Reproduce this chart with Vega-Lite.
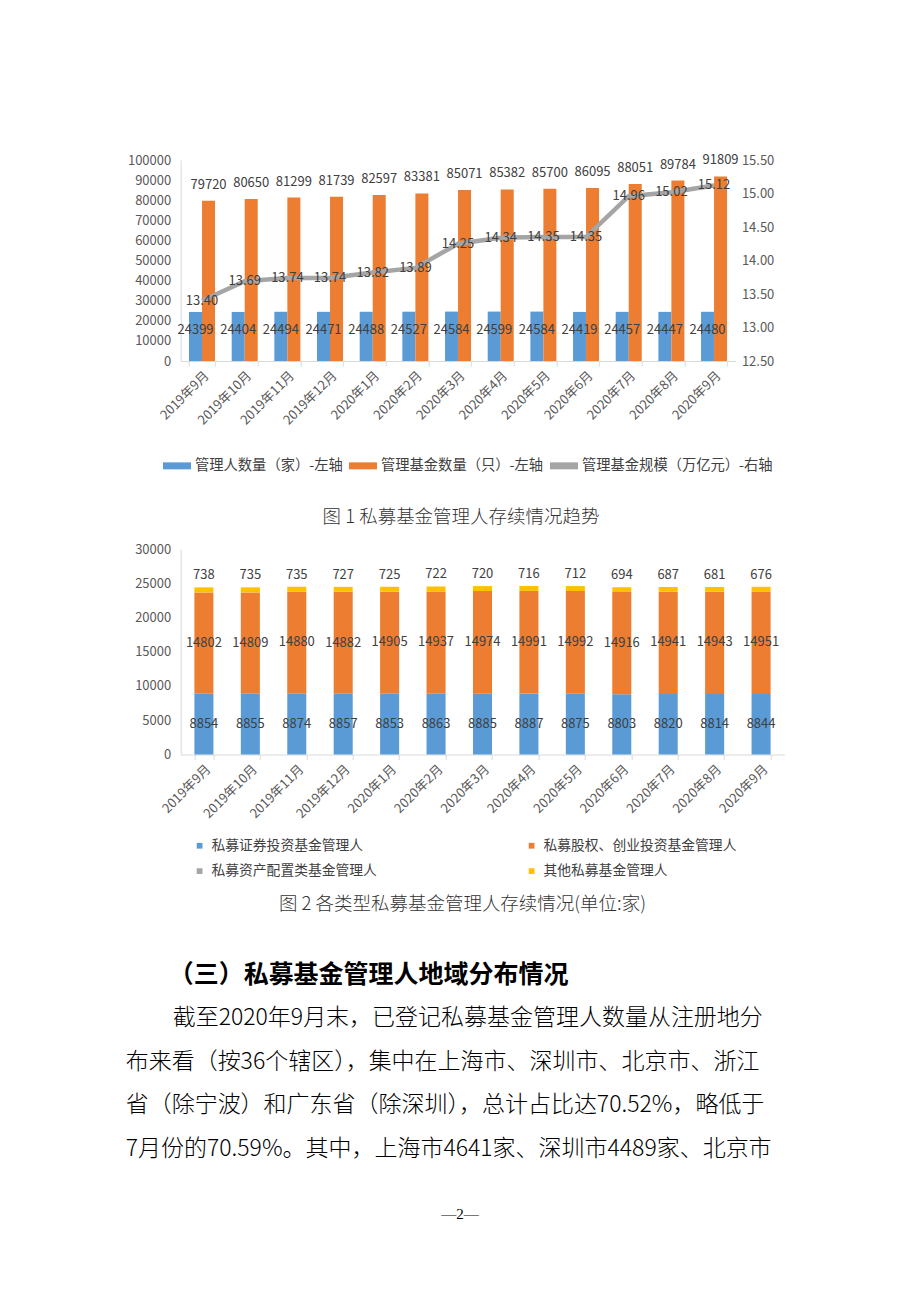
{
  "$schema": "https://vega.github.io/schema/vega-lite/v6.json",
  "background": "white",
  "padding": {"left": 125.7, "top": 154, "right": 0, "bottom": 0},
  "spacing": 17,
  "title": {"text": "—2—", "orient": "bottom", "anchor": "middle", "offset": 15, "dx": 5, "fontSize": 15, "fontWeight": "normal", "font": "Liberation Serif", "color": "#000000"},
  "datasets": {
    "c1bars": [
      {"month": "2019年9月", "series": "管理人数量（家）-左轴", "value": 24399},
      {"month": "2019年10月", "series": "管理人数量（家）-左轴", "value": 24404},
      {"month": "2019年11月", "series": "管理人数量（家）-左轴", "value": 24494},
      {"month": "2019年12月", "series": "管理人数量（家）-左轴", "value": 24471},
      {"month": "2020年1月", "series": "管理人数量（家）-左轴", "value": 24488},
      {"month": "2020年2月", "series": "管理人数量（家）-左轴", "value": 24527},
      {"month": "2020年3月", "series": "管理人数量（家）-左轴", "value": 24584},
      {"month": "2020年4月", "series": "管理人数量（家）-左轴", "value": 24599},
      {"month": "2020年5月", "series": "管理人数量（家）-左轴", "value": 24584},
      {"month": "2020年6月", "series": "管理人数量（家）-左轴", "value": 24419},
      {"month": "2020年7月", "series": "管理人数量（家）-左轴", "value": 24457},
      {"month": "2020年8月", "series": "管理人数量（家）-左轴", "value": 24447},
      {"month": "2020年9月", "series": "管理人数量（家）-左轴", "value": 24480},
      {"month": "2019年9月", "series": "管理基金数量（只）-左轴", "value": 79720},
      {"month": "2019年10月", "series": "管理基金数量（只）-左轴", "value": 80650},
      {"month": "2019年11月", "series": "管理基金数量（只）-左轴", "value": 81299},
      {"month": "2019年12月", "series": "管理基金数量（只）-左轴", "value": 81739},
      {"month": "2020年1月", "series": "管理基金数量（只）-左轴", "value": 82597},
      {"month": "2020年2月", "series": "管理基金数量（只）-左轴", "value": 83381},
      {"month": "2020年3月", "series": "管理基金数量（只）-左轴", "value": 85071},
      {"month": "2020年4月", "series": "管理基金数量（只）-左轴", "value": 85382},
      {"month": "2020年5月", "series": "管理基金数量（只）-左轴", "value": 85700},
      {"month": "2020年6月", "series": "管理基金数量（只）-左轴", "value": 86095},
      {"month": "2020年7月", "series": "管理基金数量（只）-左轴", "value": 88051},
      {"month": "2020年8月", "series": "管理基金数量（只）-左轴", "value": 89784},
      {"month": "2020年9月", "series": "管理基金数量（只）-左轴", "value": 91809}
    ],
    "c1line": [
      {"month": "2019年9月", "scale": 13.40},
      {"month": "2019年10月", "scale": 13.69},
      {"month": "2019年11月", "scale": 13.74},
      {"month": "2019年12月", "scale": 13.74},
      {"month": "2020年1月", "scale": 13.82},
      {"month": "2020年2月", "scale": 13.89},
      {"month": "2020年3月", "scale": 14.25},
      {"month": "2020年4月", "scale": 14.34},
      {"month": "2020年5月", "scale": 14.35},
      {"month": "2020年6月", "scale": 14.35},
      {"month": "2020年7月", "scale": 14.96},
      {"month": "2020年8月", "scale": 15.02},
      {"month": "2020年9月", "scale": 15.12}
    ],
    "c2": [
      {"month": "2019年9月", "series": "私募证券投资基金管理人", "k": 1, "value": 8854},
      {"month": "2019年10月", "series": "私募证券投资基金管理人", "k": 1, "value": 8855},
      {"month": "2019年11月", "series": "私募证券投资基金管理人", "k": 1, "value": 8874},
      {"month": "2019年12月", "series": "私募证券投资基金管理人", "k": 1, "value": 8857},
      {"month": "2020年1月", "series": "私募证券投资基金管理人", "k": 1, "value": 8853},
      {"month": "2020年2月", "series": "私募证券投资基金管理人", "k": 1, "value": 8863},
      {"month": "2020年3月", "series": "私募证券投资基金管理人", "k": 1, "value": 8885},
      {"month": "2020年4月", "series": "私募证券投资基金管理人", "k": 1, "value": 8887},
      {"month": "2020年5月", "series": "私募证券投资基金管理人", "k": 1, "value": 8875},
      {"month": "2020年6月", "series": "私募证券投资基金管理人", "k": 1, "value": 8803},
      {"month": "2020年7月", "series": "私募证券投资基金管理人", "k": 1, "value": 8820},
      {"month": "2020年8月", "series": "私募证券投资基金管理人", "k": 1, "value": 8814},
      {"month": "2020年9月", "series": "私募证券投资基金管理人", "k": 1, "value": 8844},
      {"month": "2019年9月", "series": "私募股权、创业投资基金管理人", "k": 2, "value": 14802},
      {"month": "2019年10月", "series": "私募股权、创业投资基金管理人", "k": 2, "value": 14809},
      {"month": "2019年11月", "series": "私募股权、创业投资基金管理人", "k": 2, "value": 14880},
      {"month": "2019年12月", "series": "私募股权、创业投资基金管理人", "k": 2, "value": 14882},
      {"month": "2020年1月", "series": "私募股权、创业投资基金管理人", "k": 2, "value": 14905},
      {"month": "2020年2月", "series": "私募股权、创业投资基金管理人", "k": 2, "value": 14937},
      {"month": "2020年3月", "series": "私募股权、创业投资基金管理人", "k": 2, "value": 14974},
      {"month": "2020年4月", "series": "私募股权、创业投资基金管理人", "k": 2, "value": 14991},
      {"month": "2020年5月", "series": "私募股权、创业投资基金管理人", "k": 2, "value": 14992},
      {"month": "2020年6月", "series": "私募股权、创业投资基金管理人", "k": 2, "value": 14916},
      {"month": "2020年7月", "series": "私募股权、创业投资基金管理人", "k": 2, "value": 14941},
      {"month": "2020年8月", "series": "私募股权、创业投资基金管理人", "k": 2, "value": 14943},
      {"month": "2020年9月", "series": "私募股权、创业投资基金管理人", "k": 2, "value": 14951},
      {"month": "2019年9月", "series": "私募资产配置类基金管理人", "k": 3, "value": 5},
      {"month": "2019年10月", "series": "私募资产配置类基金管理人", "k": 3, "value": 5},
      {"month": "2019年11月", "series": "私募资产配置类基金管理人", "k": 3, "value": 5},
      {"month": "2019年12月", "series": "私募资产配置类基金管理人", "k": 3, "value": 5},
      {"month": "2020年1月", "series": "私募资产配置类基金管理人", "k": 3, "value": 5},
      {"month": "2020年2月", "series": "私募资产配置类基金管理人", "k": 3, "value": 5},
      {"month": "2020年3月", "series": "私募资产配置类基金管理人", "k": 3, "value": 5},
      {"month": "2020年4月", "series": "私募资产配置类基金管理人", "k": 3, "value": 5},
      {"month": "2020年5月", "series": "私募资产配置类基金管理人", "k": 3, "value": 5},
      {"month": "2020年6月", "series": "私募资产配置类基金管理人", "k": 3, "value": 6},
      {"month": "2020年7月", "series": "私募资产配置类基金管理人", "k": 3, "value": 9},
      {"month": "2020年8月", "series": "私募资产配置类基金管理人", "k": 3, "value": 9},
      {"month": "2020年9月", "series": "私募资产配置类基金管理人", "k": 3, "value": 9},
      {"month": "2019年9月", "series": "其他私募基金管理人", "k": 4, "value": 738},
      {"month": "2019年10月", "series": "其他私募基金管理人", "k": 4, "value": 735},
      {"month": "2019年11月", "series": "其他私募基金管理人", "k": 4, "value": 735},
      {"month": "2019年12月", "series": "其他私募基金管理人", "k": 4, "value": 727},
      {"month": "2020年1月", "series": "其他私募基金管理人", "k": 4, "value": 725},
      {"month": "2020年2月", "series": "其他私募基金管理人", "k": 4, "value": 722},
      {"month": "2020年3月", "series": "其他私募基金管理人", "k": 4, "value": 720},
      {"month": "2020年4月", "series": "其他私募基金管理人", "k": 4, "value": 716},
      {"month": "2020年5月", "series": "其他私募基金管理人", "k": 4, "value": 712},
      {"month": "2020年6月", "series": "其他私募基金管理人", "k": 4, "value": 694},
      {"month": "2020年7月", "series": "其他私募基金管理人", "k": 4, "value": 687},
      {"month": "2020年8月", "series": "其他私募基金管理人", "k": 4, "value": 681},
      {"month": "2020年9月", "series": "其他私募基金管理人", "k": 4, "value": 676}
    ],
    "heading": [
      {"line": 0, "text": "（三）私募基金管理人地域分布情况"}
    ],
    "para": [
      {"line": 1, "text": "截至2020年9月末，已登记私募基金管理人数量从注册地分"},
      {"line": 2, "text": "布来看（按36个辖区），集中在上海市、深圳市、北京市、浙江"},
      {"line": 3, "text": "省（除宁波）和广东省（除深圳），总计占比达70.52%，略低于"},
      {"line": 4, "text": "7月份的70.59%。其中，上海市4641家、深圳市4489家、北京市"}
    ]
  },
  "vconcat": [
    {
      "width": 554.7,
      "height": 201,
      "title": {"text": "图 1 私募基金管理人存续情况趋势", "orient": "bottom", "anchor": "middle", "offset": 34, "dx": 3, "fontSize": 18.5, "fontWeight": 300, "color": "#333333"},
      "layer": [
        {
          "data": {"name": "c1bars"},
          "encoding": {
            "x": {"field": "month", "type": "nominal",
              "scale": {"domain": ["2019年9月","2019年10月","2019年11月","2019年12月","2020年1月","2020年2月","2020年3月","2020年4月","2020年5月","2020年6月","2020年7月","2020年8月","2020年9月"], "paddingInner": 0.39, "paddingOuter": 0.195},
              "axis": {"title": null, "labelAngle": -45, "labelFontSize": 13, "labelColor": "#595959", "tickBand": "extent", "tickSize": 5, "tickColor": "#d9d9d9", "domainColor": "#d9d9d9", "labelPadding": 3}},
            "xOffset": {"field": "series", "type": "nominal", "scale": {"domain": ["管理人数量（家）-左轴", "管理基金数量（只）-左轴"], "paddingInner": 0, "paddingOuter": 0}},
            "y": {"field": "value", "type": "quantitative", "scale": {"domain": [0, 100000]},
              "axis": {"title": null, "values": [0,10000,20000,30000,40000,50000,60000,70000,80000,90000,100000], "format": "d", "labelFontSize": 13, "labelColor": "#595959", "ticks": false, "grid": false, "domain": true, "domainColor": "#d9d9d9", "labelPadding": 10}}
          },
          "layer": [
            {
              "mark": {"type": "bar"},
              "encoding": {
                "color": {"field": "series", "type": "nominal",
                  "scale": {"domain": ["管理人数量（家）-左轴", "管理基金数量（只）-左轴", "管理基金规模（万亿元）-右轴"], "range": ["#5B9BD5", "#ED7D31", "#A5A5A5"]},
                  "legend": {"title": null, "orient": "none", "direction": "horizontal", "legendX": -17.7, "legendY": 291.5, "symbolType": "M-1,-0.25L1,-0.25L1,0.25L-1,0.25Z", "symbolSize": 784, "symbolStrokeWidth": 0, "labelFontSize": 14.3, "labelColor": "#404040", "labelOffset": 4, "labelLimit": 400, "columnPadding": 6}}
              }
            },
            {
              "transform": [{"filter": "datum.series == '管理人数量（家）-左轴'"}],
              "mark": {"type": "text", "dy": 18, "fontSize": 13, "color": "#404040"},
              "encoding": {"text": {"field": "value", "type": "quantitative", "format": "d"}}
            },
            {
              "transform": [{"filter": "datum.series == '管理基金数量（只）-左轴'"}],
              "mark": {"type": "text", "dy": -16, "fontSize": 13, "color": "#404040"},
              "encoding": {"text": {"field": "value", "type": "quantitative", "format": "d"}}
            }
          ]
        },
        {
          "data": {"name": "c1line"},
          "encoding": {
            "x": {"field": "month", "type": "nominal"},
            "y": {"field": "scale", "type": "quantitative", "scale": {"domain": [12.5, 15.5]},
              "axis": {"orient": "right", "title": null, "values": [12.5,13,13.5,14,14.5,15,15.5], "format": ".2f", "labelFontSize": 13, "labelColor": "#595959", "ticks": false, "grid": false, "domain": false, "labelPadding": 6}}
          },
          "layer": [
            {
              "mark": {"type": "line", "strokeWidth": 4.5},
              "encoding": {"color": {"datum": "管理基金规模（万亿元）-右轴"}}
            },
            {
              "mark": {"type": "text", "fontSize": 13, "color": "#404040"},
              "encoding": {"text": {"field": "scale", "type": "quantitative", "format": ".2f"}}
            }
          ]
        }
      ],
      "resolve": {"scale": {"y": "independent"}}
    },
    {
      "width": 603.6,
      "height": 205.5,
      "title": {"text": "图 2 各类型私募基金管理人存续情况(单位:家)", "orient": "bottom", "anchor": "middle", "offset": 16, "dx": -20, "fontSize": 18.5, "fontWeight": 300, "color": "#333333"},
      "data": {"name": "c2"},
      "transform": [{"stack": "value", "groupby": ["month"], "sort": [{"field": "k", "order": "ascending"}], "as": ["v0", "v1"]}],
      "encoding": {
        "x": {"field": "month", "type": "nominal",
          "scale": {"domain": ["2019年9月","2019年10月","2019年11月","2019年12月","2020年1月","2020年2月","2020年3月","2020年4月","2020年5月","2020年6月","2020年7月","2020年8月","2020年9月"], "paddingInner": 0.59, "paddingOuter": 0.295},
          "axis": {"title": null, "labelAngle": -45, "labelFontSize": 13, "labelColor": "#595959", "tickBand": "extent", "tickSize": 5, "tickColor": "#d9d9d9", "domainColor": "#d9d9d9", "labelPadding": 3}},
        "y": {"field": "v1", "type": "quantitative", "scale": {"domain": [0, 30000]},
          "axis": {"title": null, "values": [0,5000,10000,15000,20000,25000,30000], "format": "d", "labelFontSize": 13, "labelColor": "#595959", "ticks": false, "grid": false, "domain": true, "domainColor": "#d9d9d9", "labelPadding": 10}}
      },
      "layer": [
        {
          "mark": {"type": "bar"},
          "encoding": {
            "y": {"field": "v0", "type": "quantitative"},
            "y2": {"field": "v1"},
            "color": {"field": "series", "type": "nominal",
              "scale": {"domain": ["私募证券投资基金管理人", "私募股权、创业投资基金管理人", "私募资产配置类基金管理人", "其他私募基金管理人"], "range": ["#5B9BD5", "#ED7D31", "#A5A5A5", "#FFC000"]},
              "legend": {"title": null, "orient": "none", "direction": "horizontal", "columns": 2, "legendX": 12, "legendY": 289.7, "symbolType": "square", "symbolSize": 33, "symbolStrokeWidth": 0, "labelFontSize": 13.8, "labelColor": "#404040", "labelOffset": 5, "labelLimit": 400, "columnPadding": 147, "rowPadding": 10.5}}
          }
        },
        {
          "transform": [{"filter": "datum.k == 1"}],
          "mark": {"type": "text", "dy": 30.3, "fontSize": 13, "color": "#404040"},
          "encoding": {"text": {"field": "value", "type": "quantitative", "format": "d"}}
        },
        {
          "transform": [{"filter": "datum.k == 2"}],
          "mark": {"type": "text", "dy": 50.7, "fontSize": 13, "color": "#404040"},
          "encoding": {"text": {"field": "value", "type": "quantitative", "format": "d"}}
        },
        {
          "transform": [{"filter": "datum.k == 4"}],
          "mark": {"type": "text", "dy": -12, "fontSize": 13, "color": "#404040"},
          "encoding": {"text": {"field": "value", "type": "quantitative", "format": "d"}}
        }
      ]
    },
    {
      "width": 560,
      "height": {"step": 41.75},
      "encoding": {
        "x": {"datum": 0, "type": "quantitative", "scale": {"domain": [0, 1]}, "axis": null},
        "y": {"field": "line", "type": "ordinal", "scale": {"padding": 1.13}, "axis": null},
        "text": {"field": "text", "type": "nominal"}
      },
      "layer": [
        {
          "data": {"name": "heading"},
          "mark": {"type": "text", "align": "left", "baseline": "middle", "dx": -12, "fontSize": 25, "fontWeight": "bold", "color": "#000000"}
        },
        {
          "data": {"name": "para"},
          "transform": [{"filter": "datum.line == 1"}],
          "mark": {"type": "text", "align": "left", "baseline": "middle", "dx": -8, "fontSize": 23, "fontWeight": 300, "color": "#000000"}
        },
        {
          "data": {"name": "para"},
          "transform": [{"filter": "datum.line > 1"}],
          "mark": {"type": "text", "align": "left", "baseline": "middle", "dx": -55, "fontSize": 23, "fontWeight": 300, "color": "#000000"}
        }
      ]
    }
  ],
  "resolve": {"scale": {"x": "independent", "y": "independent", "color": "independent", "xOffset": "independent"}, "legend": {"color": "independent"}},
  "config": {
    "font": "Noto Sans CJK SC",
    "view": {"stroke": null},
    "text": {"font": "Noto Sans CJK SC"},
    "title": {"font": "Noto Sans CJK SC"},
    "axis": {"labelFont": "Noto Sans CJK SC"},
    "legend": {"labelFont": "Noto Sans CJK SC"}
  }
}
